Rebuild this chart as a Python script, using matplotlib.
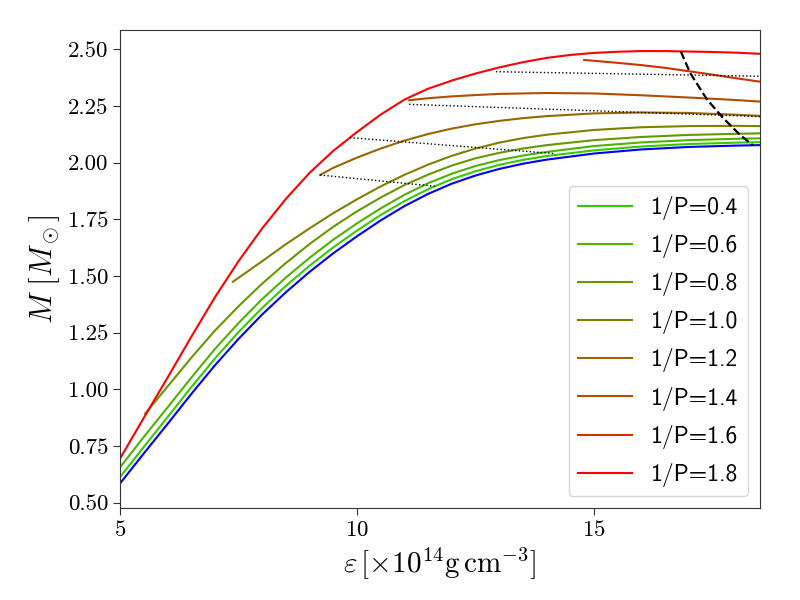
import matplotlib
matplotlib.use("Agg")
import matplotlib.pyplot as plt

plt.rcParams['font.family'] = 'serif'
plt.rcParams['font.serif'] = ['cmr10']
plt.rcParams['mathtext.fontset'] = 'cm'
plt.rcParams['axes.formatter.use_mathtext'] = True

# static sequence
eps_static = [5, 5.5, 6, 6.5, 7, 7.5, 8, 8.5, 9, 9.5, 10, 10.5, 11, 11.5, 12, 12.5, 13, 13.5, 14, 15, 16, 17, 18, 18.5]
m_static = [0.584, 0.716, 0.846, 0.978, 1.105, 1.222, 1.33, 1.428, 1.518, 1.6, 1.675, 1.745, 1.808, 1.862,
            1.907, 1.943, 1.972, 1.995, 2.013, 2.04, 2.058, 2.069, 2.075, 2.077]

# constant 1/P sequences
inv_p = [0.4, 0.6, 0.8, 1.0, 1.2, 1.4, 1.6, 1.8]
colors = ['#33cc00', '#4db300', '#669900', '#808000', '#996600', '#b34d00', '#cc3300', '#ff0000']

eps_04 = [5, 5.5, 6, 6.5, 7, 7.5, 8, 8.5, 9, 9.5, 10, 10.5, 11, 11.5, 12, 12.5, 13, 13.5, 14, 15, 16, 17, 18, 18.5]
m_04 = [0.612, 0.745, 0.876, 1.008, 1.135, 1.252, 1.359, 1.456, 1.545, 1.626, 1.7, 1.769, 1.83, 1.883,
        1.927, 1.962, 1.99, 2.012, 2.029, 2.054, 2.071, 2.082, 2.088, 2.09]

eps_06 = [5, 5.5, 6, 6.5, 7, 7.5, 8, 8.5, 9, 9.5, 10, 10.5, 11, 11.5, 12, 12.5, 13, 13.5, 14, 15, 16, 17, 18, 18.5]
m_06 = [0.655, 0.789, 0.919, 1.05, 1.177, 1.292, 1.398, 1.493, 1.58, 1.66, 1.732, 1.798, 1.858, 1.909,
        1.951, 1.985, 2.011, 2.031, 2.047, 2.073, 2.089, 2.099, 2.105, 2.107]

eps_08 = [5.53, 6, 6.5, 7, 7.5, 8, 8.5, 9, 9.5, 10, 10.5, 11, 11.5, 12, 12.5, 13, 13.5, 14, 15, 16, 17, 18, 18.5]
m_08 = [0.892, 1.011, 1.138, 1.258, 1.366, 1.466, 1.557, 1.641, 1.717, 1.785, 1.846, 1.901, 1.947,
        1.987, 2.019, 2.043, 2.062, 2.077, 2.099, 2.113, 2.122, 2.127, 2.129]

eps_10 = [7.38, 8, 8.5, 9, 9.5, 10, 10.5, 11, 11.5, 12, 12.5, 13, 13.5, 14, 15, 16, 17, 18, 18.5]
m_10 = [1.474, 1.565, 1.64, 1.71, 1.777, 1.838, 1.895, 1.946, 1.991, 2.03, 2.062, 2.088, 2.108, 2.123,
        2.144, 2.156, 2.161, 2.162, 2.161]

eps_12 = [9.22, 9.5, 10, 10.5, 11, 11.5, 12, 12.5, 13, 13.5, 14, 15, 16, 17, 18, 18.5]
m_12 = [1.945, 1.977, 2.022, 2.062, 2.097, 2.126, 2.15, 2.169, 2.184, 2.196, 2.205, 2.217, 2.221, 2.219, 2.211, 2.206]

eps_14 = [11.1, 11.5, 12, 12.5, 13, 14, 15, 16, 17, 18, 18.5]
m_14 = [2.275, 2.284, 2.292, 2.298, 2.303, 2.307, 2.305, 2.297, 2.287, 2.276, 2.269]

eps_16 = [14.79, 15.5, 16, 16.5, 17, 17.5, 18, 18.5]
m_16 = [2.453, 2.44, 2.43, 2.418, 2.403, 2.388, 2.372, 2.357]

eps_18 = [5, 5.5, 6, 6.5, 7, 7.5, 8, 8.5, 9, 9.5, 10, 10.5, 11, 11.5, 12, 12.5, 13, 13.5, 14, 14.5,
          15, 15.5, 16, 16.5, 17, 17.5, 18, 18.5]
m_18 = [0.694, 0.873, 1.05, 1.23, 1.405, 1.565, 1.71, 1.84, 1.955, 2.052, 2.135, 2.212, 2.278, 2.326,
        2.362, 2.393, 2.42, 2.443, 2.462, 2.475, 2.484, 2.489, 2.492, 2.492, 2.49, 2.488, 2.485, 2.48]

eps_seq = [eps_04, eps_06, eps_08, eps_10, eps_12, eps_14, eps_16, eps_18]
m_seq = [m_04, m_06, m_08, m_10, m_12, m_14, m_16, m_18]

# maximum mass line
eps_max = [16.83, 17.03, 17.38, 17.73, 18.08, 18.35]
m_max = [2.49, 2.394, 2.279, 2.195, 2.122, 2.076]

# dotted lines
dot_eps = [[9.22, 11.67], [9.85, 14.15], [11.1, 18.5], [12.93, 18.5]]
dot_m = [[1.945, 1.895], [2.11, 2.04], [2.257, 2.203], [2.401, 2.381]]

fig = plt.figure(figsize=(8, 6), dpi=100)
ax = fig.add_subplot(111)
fig.subplots_adjust(left=0.15, right=0.95, top=0.95, bottom=0.153)

ax.plot(eps_static, m_static, color='#0000ff', lw=1.5)
for f, c, e, m in zip(inv_p, colors, eps_seq, m_seq):
    ax.plot(e, m, color=c, lw=1.5, label='1/P=%.1f' % f)

for e, m in zip(dot_eps, dot_m):
    ax.plot(e, m, color='k', ls=':', lw=1.0)
ax.plot(eps_max, m_max, color='k', ls='--', lw=1.6)

ax.set_xlim(5, 18.5)
ax.set_ylim(0.475, 2.585)
ax.set_xticks([5, 10, 15])
ax.set_yticks([0.5, 0.75, 1.0, 1.25, 1.5, 1.75, 2.0, 2.25, 2.5])
ax.set_yticklabels(['%.2f' % v for v in ax.get_yticks()])
ax.tick_params(labelsize=16.5, color='#333333', length=5)
for s in ax.spines.values():
    s.set_color('#333333')

ax.set_xlabel(r'$\varepsilon\,[\times10^{14}{\rm g\,cm^{-3}}]$', fontsize=21)
ax.set_ylabel(r'$M\ [M_\odot]$', fontsize=22)

ax.legend(loc='lower right', prop={'family': 'cmss10', 'size': 17},
          handlelength=2.3, labelspacing=0.6)

plt.savefig('out.png')
